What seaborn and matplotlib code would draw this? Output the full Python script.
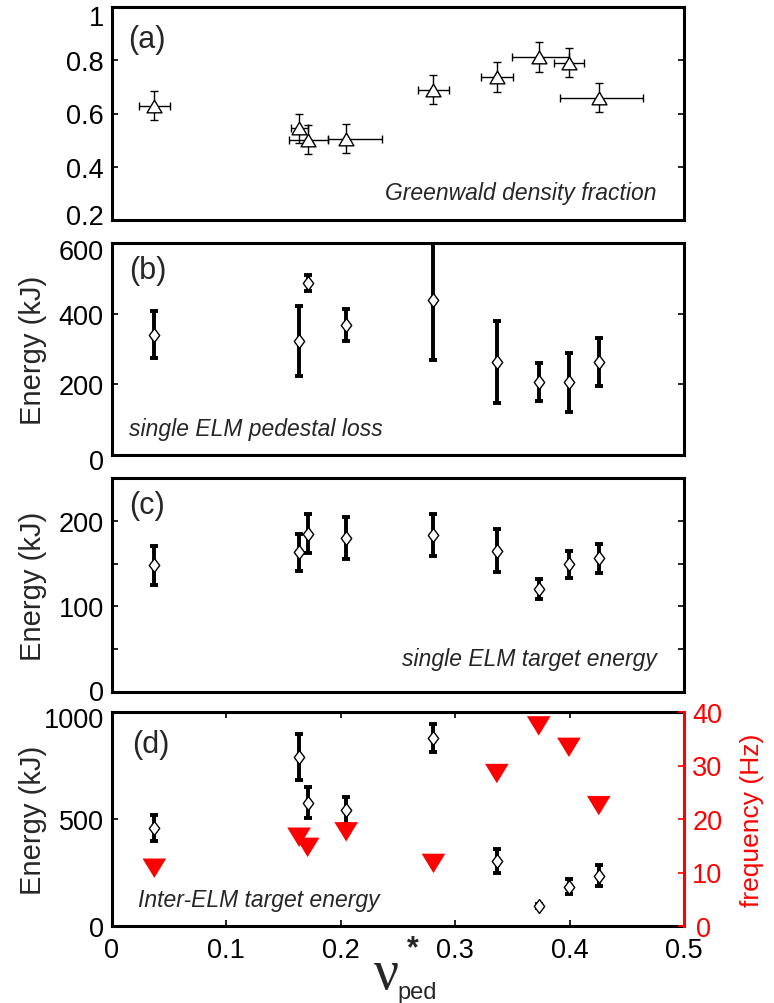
import numpy as np
import pandas as pd
import seaborn as sns
import matplotlib
matplotlib.use("Agg")
import matplotlib.pyplot as plt
import matplotlib.transforms as mtransforms
from matplotlib.path import Path

# ---------------- data ----------------
nu_ped = [0.037, 0.1635, 0.171, 0.2047, 0.281, 0.3364, 0.373, 0.3994, 0.4255]
nu_err_lo = [0.013, 0.007, 0.0166, 0.0156, 0.0133, 0.014, 0.0234, 0.0133, 0.034]
nu_err_hi = [0.014, 0.008, 0.018, 0.0315, 0.014, 0.014, 0.0263, 0.013, 0.039]

greenwald = [0.630, 0.544, 0.502, 0.505, 0.690, 0.737, 0.812, 0.791, 0.659]
greenwald_err = [0.055, 0.055, 0.055, 0.055, 0.055, 0.056, 0.056, 0.055, 0.055]

ped_loss = [341, 323, 487, 368, 438, 263, 207, 206, 263]
ped_loss_err = [66, 100, 22, 45, 168, 117, 53, 83, 68]

target_energy = [148, 163, 185, 179.5, 183, 165, 120, 149, 156]
target_energy_err = [23, 22, 23, 24.5, 24.5, 25, 11.5, 16, 17]

inter_elm = [457, 790, 576, 540, 880, 302, 94, 183, 235]
inter_elm_err = [60, 107, 73, 62, 66, 56, 10, 35, 48]

elm_freq = [10.8, 16.6, 14.7, 17.6, 11.7, 28.5, 37.4, 33.4, 22.5]

x_ticks = [0, 0.1, 0.2, 0.3, 0.4, 0.5]
x_ticklabels = ["0", "0.1", "0.2", "0.3", "0.4", "0.5"]
a_ticks = [0.2, 0.4, 0.6, 0.8, 1.0]
a_ticklabels = ["0.2", "0.4", "0.6", "0.8", "1"]
b_ticks = [0, 200, 400, 600]
b_ticklabels = ["0", "200", "400", "600"]
c_ticks = [0, 50, 100, 150, 200]
c_ticklabels = ["0", "", "100", "", "200"]
d_ticks = [0, 500, 1000]
d_ticklabels = ["0", "500", "1000"]
f_ticks = [0, 10, 20, 30, 40]
f_ticklabels = ["0", "10", "20", "30", "40"]

df = pd.DataFrame({
    "nu": nu_ped, "fgw": greenwald, "ped": ped_loss, "tgt": target_energy,
    "inter": inter_elm, "freq": elm_freq,
})

# ---------------- style ----------------
sns.set_theme(style="ticks")
plt.rcParams["font.family"] = ["Liberation Sans", "DejaVu Sans"]
plt.rcParams["axes.linewidth"] = 2.2
plt.rcParams["xtick.direction"] = "in"
plt.rcParams["ytick.direction"] = "in"

W, H = 774, 1004
L, R = 112, 684
fig = plt.figure(figsize=(W / 100, H / 100), dpi=100)
fig.patch.set_facecolor("white")


def make_axes(top, bottom):
    return fig.add_axes([L / W, 1 - bottom / H, (R - L) / W, (bottom - top) / H])


ax_a = make_axes(8, 221)
ax_b = make_axes(244, 456)
ax_c = make_axes(479, 693)
ax_d = make_axes(713, 927)

diamond = Path([(0, 1), (0.75, 0), (0, -1), (-0.75, 0), (0, 1)],
               [Path.MOVETO, Path.LINETO, Path.LINETO, Path.LINETO, Path.CLOSEPOLY])
tri_up = Path([(0, 0.85), (1, -0.85), (-1, -0.85), (0, 0.85)],
              [Path.MOVETO, Path.LINETO, Path.LINETO, Path.CLOSEPOLY])
tri_down = Path([(0, -0.82), (1, 0.82), (-1, 0.82), (0, -0.82)],
                [Path.MOVETO, Path.LINETO, Path.LINETO, Path.CLOSEPOLY])

TICK_FS = 19.5
LAB_FS = 20
PANEL_FS = 22
NOTE_FS = 16.5

for ax in (ax_a, ax_b, ax_c, ax_d):
    ax.set_facecolor("white")
    ax.set_xlim(0, 0.5)
    for sp in ax.spines.values():
        sp.set_visible(True)
        sp.set_linewidth(2.2)
        sp.set_color("black")
    ax.tick_params(axis="both", direction="in", length=4, width=1.2,
                   labelsize=TICK_FS, colors="black", pad=6)

for ax in (ax_a, ax_b, ax_c):
    ax.tick_params(axis="x", bottom=False, top=False, labelbottom=False)
    ax.tick_params(axis="y", left=True, right=True)
    ax.set_xlabel("")

# ---- (a) Greenwald fraction ----
ax_a.errorbar(nu_ped, greenwald, yerr=greenwald_err, xerr=[nu_err_lo, nu_err_hi],
              fmt="none", ecolor="black", elinewidth=1.0, capsize=2.8, capthick=1.0, zorder=2)
sns.scatterplot(data=df, x="nu", y="fgw", ax=ax_a, marker=tri_up, s=115,
                facecolor="white", edgecolor="black", linewidth=1.0, zorder=3)
ax_a.set_ylim(0.2, 1.0)
ax_a.set_yticks(a_ticks)
ax_a.set_yticklabels(a_ticklabels)
ax_a.set_ylabel("")
ax_a.text(0.028, 0.85, "(a)", transform=ax_a.transAxes, fontsize=PANEL_FS, va="center")
ax_a.text(0.952, 0.13, "Greenwald density fraction", transform=ax_a.transAxes,
          fontsize=NOTE_FS, style="italic", ha="right", va="center")

# common style for thick error bars
thick = dict(fmt="none", ecolor="black", elinewidth=2.8, capsize=3.2, capthick=2.8, zorder=2)
dia = dict(marker=diamond, s=100, facecolor="white", edgecolor="black", linewidth=1.0, zorder=3)

# ---- (b) pedestal loss ----
ax_b.errorbar(nu_ped, ped_loss, yerr=ped_loss_err, **thick)
sns.scatterplot(data=df, x="nu", y="ped", ax=ax_b, **dia)
ax_b.set_ylim(0, 600)
ax_b.set_yticks(b_ticks)
ax_b.set_yticklabels(b_ticklabels)
ax_b.text(0.03, 0.875, "(b)", transform=ax_b.transAxes, fontsize=PANEL_FS, va="center")
ax_b.text(0.03, 0.125, "single ELM pedestal loss", transform=ax_b.transAxes,
          fontsize=NOTE_FS, style="italic", ha="left", va="center")

# ---- (c) single ELM target energy ----
ax_c.errorbar(nu_ped, target_energy, yerr=target_energy_err, **thick)
sns.scatterplot(data=df, x="nu", y="tgt", ax=ax_c, **dia)
ax_c.set_ylim(0, 250)
ax_c.set_yticks(c_ticks)
ax_c.set_yticklabels(c_ticklabels)
ax_c.text(0.03, 0.875, "(c)", transform=ax_c.transAxes, fontsize=PANEL_FS, va="center")
ax_c.text(0.952, 0.155, "single ELM target energy", transform=ax_c.transAxes,
          fontsize=NOTE_FS, style="italic", ha="right", va="center")

# ---- (d) inter-ELM target energy + frequency ----
ax_d.errorbar(nu_ped, inter_elm, yerr=inter_elm_err, **thick)
sns.scatterplot(data=df, x="nu", y="inter", ax=ax_d, **dia)
ax_d.set_ylim(0, 1000)
ax_d.set_yticks(d_ticks)
ax_d.set_yticklabels(d_ticklabels)
ax_d.set_xticks(x_ticks)
ax_d.set_xticklabels(x_ticklabels)
ax_d.tick_params(axis="x", bottom=True, top=True, labelbottom=True, pad=8)
ax_d.tick_params(axis="y", left=True, right=False)
ax_d.spines["right"].set_visible(False)
ax_d.text(0.036, 0.85, "(d)", transform=ax_d.transAxes, fontsize=PANEL_FS, va="center")
ax_d.text(0.045, 0.126, "Inter-ELM target energy", transform=ax_d.transAxes,
          fontsize=NOTE_FS, style="italic", ha="left", va="center")
ax_d.set_xlabel("")

ax_f = ax_d.twinx()
sns.scatterplot(data=df, x="nu", y="freq", ax=ax_f, marker=tri_down, s=290,
                color="red", edgecolor="none", linewidth=0, zorder=4)
ax_f.set_ylim(0, 40)
ax_f.set_yticks(f_ticks)
ax_f.set_yticklabels(f_ticklabels)
ax_f.set_xlim(0, 0.5)
for name, sp in ax_f.spines.items():
    sp.set_visible(name == "right")
ax_f.spines["right"].set_color("red")
ax_f.spines["right"].set_linewidth(2.2)
ax_f.tick_params(axis="y", direction="in", length=4, width=1.2, colors="red",
                 labelsize=TICK_FS, pad=6)
ax_f.set_ylabel("frequency (Hz)", color="red", fontsize=19)
ax_f.yaxis.set_label_coords(1.098, 0.5)

for ax in (ax_b, ax_c, ax_d):
    ax.set_ylabel("Energy (kJ)", fontsize=LAB_FS + 1)
    ax.yaxis.set_label_coords(-0.113, 0.5)


# nudge end-of-axis tick labels inward like the reference (pixels)
def nudge(ax, axis, index, dx_px, dy_px):
    tick = (ax.yaxis if axis == "y" else ax.xaxis).get_major_ticks()[index]
    off = mtransforms.ScaledTranslation(dx_px / 100, dy_px / 100, fig.dpi_scale_trans)
    tick.label1.set_transform(tick.label1.get_transform() + off)
    tick.label2.set_transform(tick.label2.get_transform() + off)


nudge(ax_a, "y", 4, 0, -8)   # "1"
nudge(ax_a, "y", 0, 0, 6)    # "0.2"
nudge(ax_b, "y", 3, 0, -6)   # "600"
nudge(ax_b, "y", 0, 0, -4)   # "0"
nudge(ax_c, "y", 0, 0, 2)    # "0"
nudge(ax_d, "y", 2, 0, -5)   # "1000"
nudge(ax_f, "y", 0, 4, 0)    # red "0"

# x label: nu*_ped
fig.text(386 / W, 1 - 975 / H, "ν", fontsize=40, family="Liberation Serif",
         ha="center", va="center")
fig.text(413 / W, 1 - 949 / H, "*", fontsize=22, fontweight="bold", ha="center", va="center")
fig.text(417 / W, 1 - 993 / H, "ped", fontsize=17, ha="center", va="center")

fig.savefig("out.png", dpi=100, facecolor="white")
